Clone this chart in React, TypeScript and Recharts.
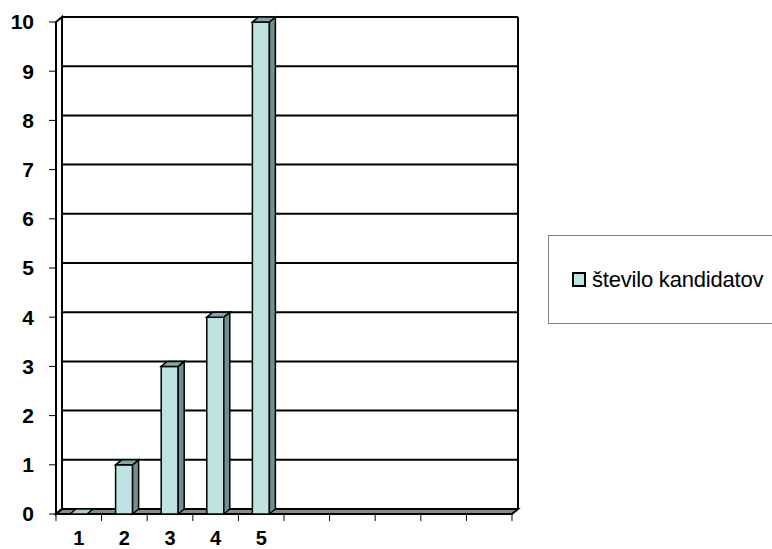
import { Bar, BarChart, CartesianGrid, XAxis, YAxis } from 'recharts';

// categories on the x axis (Excel left five empty slots after the data)
const categories = ['1', '2', '3', '4', '5', '6', '7', '8', '9', '10'];
const tickLabels = ['1', '2', '3', '4', '5', '', '', '', '', ''];
const candidates: (number | null)[] = [0, 1, 3, 4, 10, null, null, null, null, null];
const yTicks = [0, 1, 2, 3, 4, 5, 6, 7, 8, 9, 10];
const seriesName = 'število kandidatov';

const W = 772;
const H = 549;
const PLOT_LEFT = 56;
const PLOT_RIGHT = 512;
const PLOT_TOP = 22;
const PLOT_BOTTOM = 514;
// depth offset of the pseudo-3D back plane
const DX = 6;
const DY = -5;
const BAND = (PLOT_RIGHT - PLOT_LEFT) / categories.length;

const FONT = 'Arial, "Liberation Sans", sans-serif';
const FACE = '#bee3e3';
const SIDE = '#6f9090';
const TOP = '#86a6a6';

const data = categories.map((c, i) => ({ category: c, value: candidates[i] }));

function Bar3D(props: any) {
  const { x, y, width, height, payload } = props;
  if (x == null || payload?.value == null) return null;
  const h = Math.max(height || 0, 0);
  const top = `${x},${y} ${x + DX},${y + DY} ${x + width + DX},${y + DY} ${x + width},${y}`;
  if (h <= 0) {
    return <polygon points={top} fill="#a9cccc" stroke="#000" strokeWidth={1.5} />;
  }
  return (
    <g>
      <rect x={x} y={y} width={width} height={h} fill={FACE} stroke="#000" strokeWidth={1.5} />
      <polygon
        points={`${x + width},${y} ${x + width + DX},${y + DY} ${x + width + DX},${y + h + DY} ${x + width},${y + h}`}
        fill={SIDE}
        stroke="#000"
        strokeWidth={1.5}
      />
      <polygon points={top} fill={TOP} stroke="#000" strokeWidth={1.5} />
    </g>
  );
}

// horizontal gridlines live on the back wall; the zero line becomes the floor
function backLine(p: any) {
  const { x1, x2, y1 } = p;
  if (Math.abs(y1 - PLOT_BOTTOM) < 1) {
    return (
      <polygon
        key={p.key}
        points={`${x1},${y1} ${x1 + DX},${y1 + DY} ${x2 + DX},${y1 + DY} ${x2},${y1}`}
        fill="#8a8a8a"
        stroke="#000"
        strokeWidth={2}
      />
    );
  }
  return (
    <line key={p.key} x1={x1 + DX} y1={y1 + DY} x2={x2 + DX} y2={y1 + DY} stroke="#000" strokeWidth={2} />
  );
}

// left side wall plus the right edge of the back wall
function walls(p: any) {
  const { x1, y1, y2 } = p;
  return (
    <g key={p.key}>
      <polygon
        points={`${x1},${y1} ${x1 + DX},${y1 + DY} ${x1 + DX},${y2 + DY} ${x1},${y2}`}
        fill="none"
        stroke="#000"
        strokeWidth={2}
      />
      <line x1={PLOT_RIGHT + DX} y1={y1 + DY} x2={PLOT_RIGHT + DX} y2={y2 + DY} stroke="#000" strokeWidth={2} />
    </g>
  );
}

function XTick(props: any) {
  const { x, index } = props;
  const label = tickLabels[index] ?? '';
  return (
    <g>
      <line x1={x - BAND / 2} y1={PLOT_BOTTOM} x2={x - BAND / 2} y2={PLOT_BOTTOM + 7} stroke="#000" strokeWidth={1} />
      {index === categories.length - 1 && (
        <line x1={x + BAND / 2} y1={PLOT_BOTTOM} x2={x + BAND / 2} y2={PLOT_BOTTOM + 7} stroke="#000" strokeWidth={1} />
      )}
      <text x={x} y={545} textAnchor="middle" fontSize={20} fontWeight="bold" fontFamily={FONT} fill="#000">
        {label}
      </text>
    </g>
  );
}

export default function App() {
  return (
    <div
      style={{
        position: 'absolute',
        left: 0,
        top: 0,
        width: W,
        height: H,
        overflow: 'hidden',
        background: '#fff',
        fontFamily: FONT,
      }}
    >
      <BarChart
        width={W}
        height={H}
        data={data}
        margin={{ top: PLOT_TOP, right: W - PLOT_RIGHT, left: 0, bottom: 0 }}
      >
        <CartesianGrid
          horizontal={backLine}
          vertical={walls}
          verticalPoints={[PLOT_LEFT]}
        />
        <XAxis
          dataKey="category"
          interval={0}
          axisLine={false}
          tickLine={false}
          height={H - PLOT_BOTTOM}
          tick={<XTick />}
        />
        <YAxis
          domain={[0, 10]}
          ticks={yTicks}
          interval={0}
          width={PLOT_LEFT}
          tickSize={7}
          tickMargin={15}
          axisLine={{ stroke: '#000', strokeWidth: 2 }}
          tickLine={{ stroke: '#000', strokeWidth: 1 }}
          tick={{ fontSize: 21, fontWeight: 'bold', fill: '#000', fontFamily: FONT }}
        />
        <Bar
          dataKey="value"
          name={seriesName}
          barSize={17}
          shape={<Bar3D />}
          isAnimationActive={false}
        />
      </BarChart>
      <div
        style={{
          position: 'absolute',
          left: 548,
          top: 235,
          width: 240,
          height: 89,
          border: '1px solid #808080',
          boxSizing: 'border-box',
          display: 'flex',
          alignItems: 'center',
          paddingLeft: 23,
        }}
      >
        <span
          style={{
            display: 'inline-block',
            width: 10,
            height: 11,
            border: '2px solid #000',
            background: FACE,
            marginRight: 6,
          }}
        />
        <span style={{ fontSize: 22, color: '#000', letterSpacing: -0.2 }}>{seriesName}</span>
      </div>
    </div>
  );
}
